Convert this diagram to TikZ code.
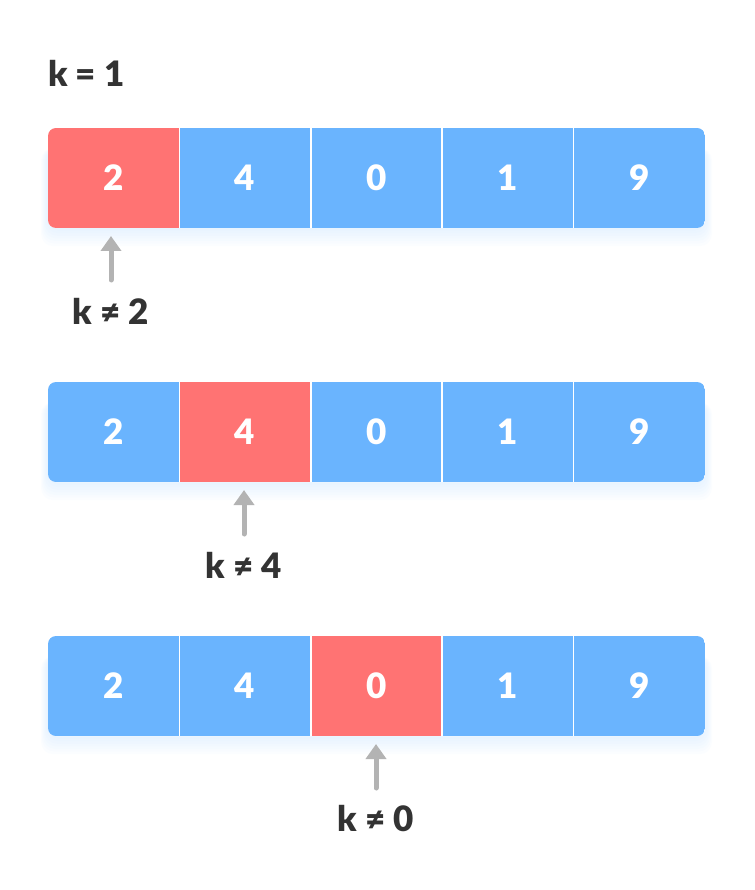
\documentclass[tikz,border=0pt]{standalone}
\usepackage{fontspec}
\setmainfont{Lato}[BoldFont={Lato Black}]
\usetikzlibrary{arrows.meta}
\definecolor{cellblue}{HTML}{6AB4FE}
\definecolor{cellred}{HTML}{FF7373}
\definecolor{ink}{HTML}{333333}
\definecolor{pointer}{HTML}{B3B3B3}

\begin{document}
\begin{tikzpicture}[
  x=1pt, y=-1pt,
  font=\bfseries\fontsize{35}{40}\selectfont,
  cell/.style={fill=cellblue, text=white, minimum width=131.4pt,
    minimum height=100pt, inner sep=0pt, outer sep=0pt},
  hit/.style={fill=cellred},
  divider/.style={white, line width=1.6pt},
  rowbox/.style={rounded corners=8pt},
  rowshade/.style={fill=cellblue, opacity=0.025, rounded corners=12pt},
  klabel/.style={text=ink, inner sep=0pt},
  probe/.style={-{Triangle[length=15pt, width=20pt]}, pointer,
    line width=5pt, line cap=round, shorten >=8pt},
]
\useasboundingbox (0,0) rectangle (754,890);

% ---- heading -----------------------------------------------------------
\node[klabel, anchor=west] (kval) at (48,73) {k = 1};

% ---- three passes over the array ---------------------------------------
\foreach \row/\top/\hit in {1/128/1, 2/382/2, 3/636/3} {
  \foreach \s in {1,...,7}
    \fill[rowshade] (48-\s,\top+20) rectangle (705+\s,\top+100+2.6*\s);
  \fill[white, rowbox] (48,\top) rectangle (705,\top+100);
  \begin{scope}
    \clip[rowbox] (48,\top) rectangle (705,\top+100);
    \foreach \v [count=\i] in {2,4,0,1,9} {
      \ifnum\i=\hit
        \node[cell, hit] (c\row\i) at (48+131.4*\i-65.7,\top+50) {\v};
      \else
        \node[cell] (c\row\i) at (48+131.4*\i-65.7,\top+50) {\v};
      \fi
    }
  \end{scope}
  \foreach \i in {1,...,4}
    \draw[divider] (c\row\i.north east) -- (c\row\i.south east);
}

% ---- pointers: k compared with each element ----------------------------
\node[klabel] (k1) at (111,311) {k ≠ 2};
\node[klabel] (k2) at (244,565) {k ≠ 4};
\node[klabel] (k3) at (376,819) {k ≠ 0};

\draw[probe] (k1.north |- 0,280) -- (k1.north |- c11.south);
\draw[probe] (k2.north |- 0,534) -- (k2.north |- c22.south);
\draw[probe] (k3.north |- 0,788) -- (k3.north |- c33.south);

\end{tikzpicture}
\end{document}
